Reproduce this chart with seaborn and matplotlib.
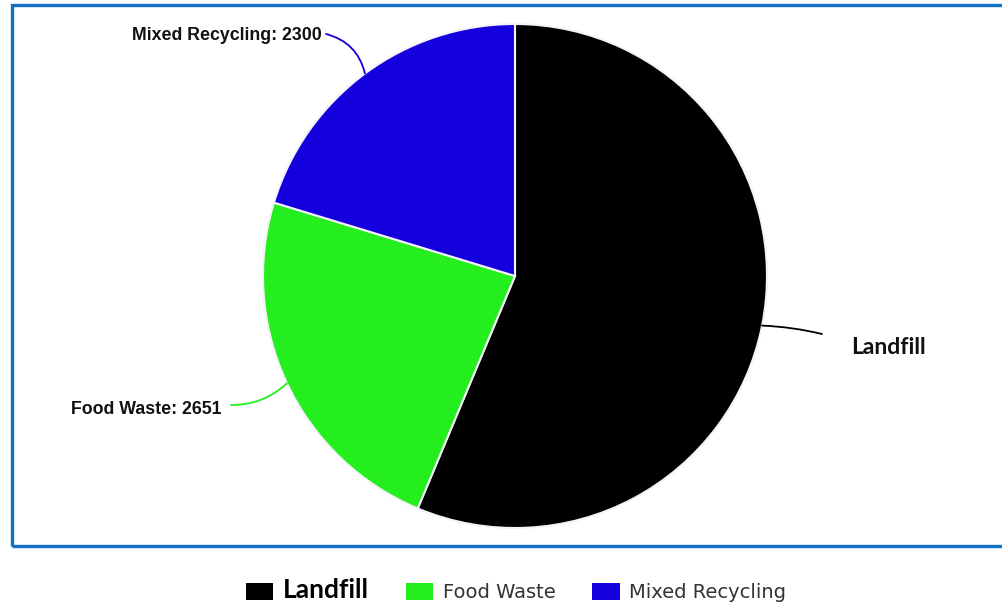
import numpy as np
import matplotlib.pyplot as plt
import matplotlib.patches as mpatches
import seaborn as sns

# Veriler
kategoriler = ["Landfill", "Food Waste", "Mixed Recycling"]
degerler = [6380, 2651, 2300]
renkler = ["#000000", "#24ee1e", "#1400dc"]

sns.set_style("white")
palet = sns.color_palette(renkler)

fig = plt.figure(figsize=(10.02, 6.05), dpi=100)
ax = fig.add_axes([0, 0, 1, 1])

W, H = 1002, 605
merkez = (515, H - 276)
yaricap = 252

dilimler, _ = ax.pie(degerler, colors=palet, startangle=90, counterclock=False,
                     center=merkez, radius=yaricap,
                     wedgeprops=dict(edgecolor="#f4f2fb", linewidth=1.5))
ax.set_xlim(0, W)
ax.set_ylim(0, H)
ax.set_aspect("auto")
ax.axis("off")

# mavi çerçeve
ax.add_patch(mpatches.Rectangle((12, H - 546), 1000, 541, fill=False,
                                edgecolor="#1172c4", linewidth=2.4, zorder=0))


def kenar(dilim):
    aci = np.deg2rad((dilim.theta1 + dilim.theta2) / 2)
    return (merkez[0] + yaricap * np.cos(aci), merkez[1] + yaricap * np.sin(aci))


# etiketler ve bağlantı çizgileri
etiket_ayar = [
    # (baslangic, yazi konumu, hiza, egrilik)
    ((822, H - 334), (851, H - 348), "left", 0.05),
    ((231, H - 405), (222, H - 409), "right", 0.2),
    ((326, H - 34), (322, H - 35), "right", -0.3),
]
for i, (bas, yazi_xy, hiza, rad) in enumerate(etiket_ayar):
    ax.annotate("", xy=kenar(dilimler[i]), xytext=bas,
                arrowprops=dict(arrowstyle="-", color=palet[i], lw=1.3,
                                shrinkA=0, shrinkB=0,
                                connectionstyle=f"arc3,rad={rad}"))
    if i == 0:
        ax.text(*yazi_xy, kategoriler[i], ha=hiza, va="center",
                family="Lato", weight="bold", fontsize=16.5, color="#111111")
    else:
        ax.text(*yazi_xy, f"{kategoriler[i]}: {degerler[i]}", ha=hiza, va="center",
                family="Liberation Sans", weight="bold", fontsize=12.8, color="#111111")

# lejant
lej = ax.legend(dilimler, kategoriler, loc="center", ncol=3, frameon=False,
                bbox_to_anchor=(0.515, 0.025), bbox_transform=fig.transFigure,
                fontsize=14, handlelength=1.4, handleheight=1.0,
                handletextpad=0.5, columnspacing=1.9)
for t in lej.get_texts():
    t.set_color("#333333")
lej.get_texts()[0].set_fontfamily("Lato")
lej.get_texts()[0].set_fontweight("bold")
lej.get_texts()[0].set_fontsize(19)
lej.get_texts()[0].set_color("#000000")
for h in lej.legend_handles:
    h.set_edgecolor("none")

fig.savefig("out.png", dpi=100)
